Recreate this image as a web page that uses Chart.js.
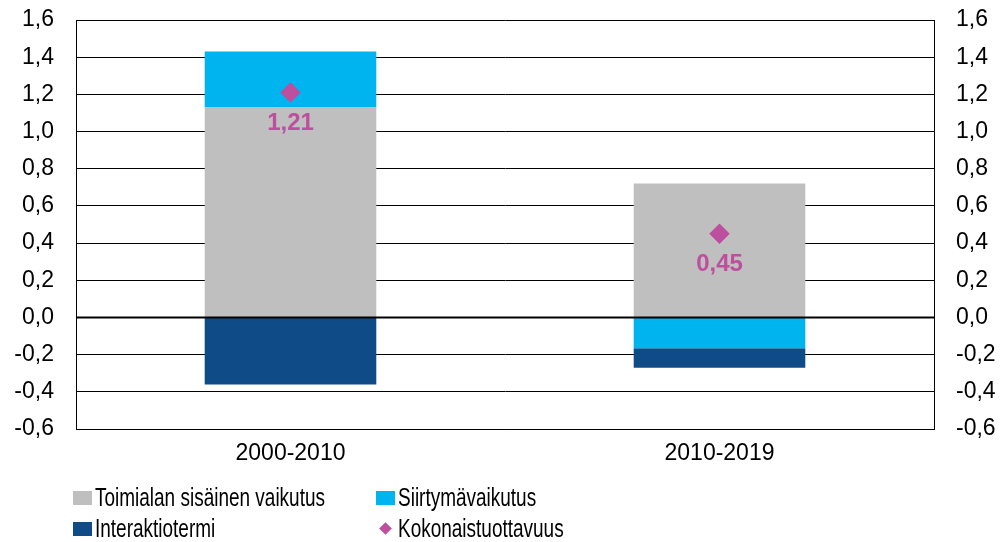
<!DOCTYPE html>
<html>
<head>
<meta charset="utf-8">
<script src="https://cdn.jsdelivr.net/npm/chart.js@4.4.0/dist/chart.umd.min.js"></script>
<style>
  body { margin: 0; background: #fff; }
  #wrap { position: relative; width: 1003px; height: 542px; overflow: hidden; font-family: "Liberation Sans", Arial, sans-serif; }
  #legend { position: absolute; left: 0; top: 0; }
  .item { position: absolute; height: 30px; }
  .swatch { position: absolute; top: 0; width: 19px; height: 14px; }
  .diamond { position: absolute; top: 2px; width: 9px; height: 9px; transform: rotate(45deg); }
  .txt { position: absolute; left: 22px; top: -9px; font-size: 26px; color: #000; white-space: nowrap; transform: scaleX(0.73); transform-origin: left top; }
</style>
</head>
<body>
<div id="wrap">
  <canvas id="wykres" width="1003" height="542"></canvas>
  <div id="legend"></div>
</div>
<script>
var categories = ['2000-2010', '2010-2019'];
var sisainen = [1.13, 0.72];
var siirtyma = [0.30, -0.165];
var interaktio = [-0.36, -0.105];
var kokonais = [1.21, 0.45];
var yMin = -0.6, yMax = 1.6, yStep = 0.2;

var cGray = '#BFBFBF';
var cCyan = '#00B4EF';
var cBlue = '#0F4C87';
var cPink = '#BE4F9E';

function fmt(v, d) {
    return v.toFixed(d).replace('.', ',');
}

// nollaviiva ja arvot pisteiden alle
var extras = {
    id: 'extras',
    afterDatasetsDraw: function (chart) {
        var ctx = chart.ctx;
        var area = chart.chartArea;
        var y0 = chart.scales.y.getPixelForValue(0);
        ctx.save();
        ctx.strokeStyle = '#000';
        ctx.lineWidth = 2;
        ctx.beginPath();
        ctx.moveTo(area.left, y0);
        ctx.lineTo(area.right, y0);
        ctx.stroke();

        var meta = chart.getDatasetMeta(3);
        meta.data.forEach(function (pt, i) {
            pt.draw(ctx);
            ctx.fillStyle = cPink;
            ctx.font = 'bold 24px "Liberation Sans", Arial, sans-serif';
            ctx.textAlign = 'center';
            ctx.textBaseline = 'middle';
            ctx.fillText(fmt(kokonais[i], 2), pt.x, pt.y + 31);
        });
        ctx.restore();
    }
};

var tickFont = { family: '"Liberation Sans", Arial, sans-serif', size: 23 };

function fitY(w) {
    return function (s) {
        s.width = w;
        s.paddingTop = 0;
        s.paddingBottom = 0;
    };
}

var ctx = document.getElementById('wykres').getContext('2d');
var myChart = new Chart(ctx, {
    type: 'bar',
    data: {
        labels: categories,
        datasets: [
            { label: 'Toimialan sisäinen vaikutus', data: sisainen, backgroundColor: cGray, stack: 's', order: 2 },
            { label: 'Siirtymävaikutus', data: siirtyma, backgroundColor: cCyan, stack: 's', order: 2 },
            { label: 'Interaktiotermi', data: interaktio, backgroundColor: cBlue, stack: 's', order: 2 },
            {
                type: 'line', label: 'Kokonaistuottavuus', data: kokonais, yAxisID: 'y2',
                showLine: false, pointStyle: 'rectRot', pointRadius: 10, pointHoverRadius: 10,
                backgroundColor: cPink, borderColor: cPink, borderWidth: 0, order: 1
            }
        ]
    },
    options: {
        responsive: false,
        animation: false,
        layout: { padding: { top: 20, bottom: 0, left: 0, right: 0 } },
        datasets: { bar: { categoryPercentage: 1, barPercentage: 0.4 } },
        plugins: { legend: { display: false }, tooltip: { enabled: false } },
        scales: {
            x: {
                stacked: true,
                grid: { display: false },
                border: { display: true, color: '#000', width: 1 },
                ticks: { color: '#000', font: tickFont, padding: 3 },
                afterFit: function (s) { s.height = 113; }
            },
            y: {
                stacked: true, position: 'left', min: yMin, max: yMax,
                grid: { color: '#000', lineWidth: 1, drawTicks: false },
                border: { display: true, color: '#000', width: 1 },
                ticks: { stepSize: yStep, color: '#000', font: tickFont, padding: 22,
                    callback: function (v) { return fmt(v, 1); } },
                afterFit: fitY(76)
            },
            y2: {
                position: 'right', min: yMin, max: yMax,
                grid: { display: false, drawTicks: false },
                border: { display: true, color: '#000', width: 1 },
                ticks: { stepSize: yStep, color: '#000', font: tickFont, padding: 22,
                    callback: function (v) { return fmt(v, 1); } },
                afterFit: fitY(69)
            }
        }
    },
    plugins: [extras]
});

// selite kahteen sarakkeeseen
var legendItems = [
    { text: 'Toimialan sisäinen vaikutus', color: cGray, x: 73, y: 491, kind: 'box' },
    { text: 'Siirtymävaikutus', color: cCyan, x: 376, y: 491, kind: 'box' },
    { text: 'Interaktiotermi', color: cBlue, x: 73, y: 522, kind: 'box' },
    { text: 'Kokonaistuottavuus', color: cPink, x: 376, y: 522, kind: 'diamond' }
];
var legend = document.getElementById('legend');
legendItems.forEach(function (it) {
    var d = document.createElement('div');
    d.className = 'item';
    d.style.left = it.x + 'px';
    d.style.top = it.y + 'px';
    var m = document.createElement('div');
    if (it.kind === 'box') {
        m.className = 'swatch';
    } else {
        m.className = 'diamond';
        m.style.left = '5px';
    }
    m.style.background = it.color;
    var t = document.createElement('div');
    t.className = 'txt';
    t.textContent = it.text;
    d.appendChild(m);
    d.appendChild(t);
    legend.appendChild(d);
});
</script>
</body>
</html>
